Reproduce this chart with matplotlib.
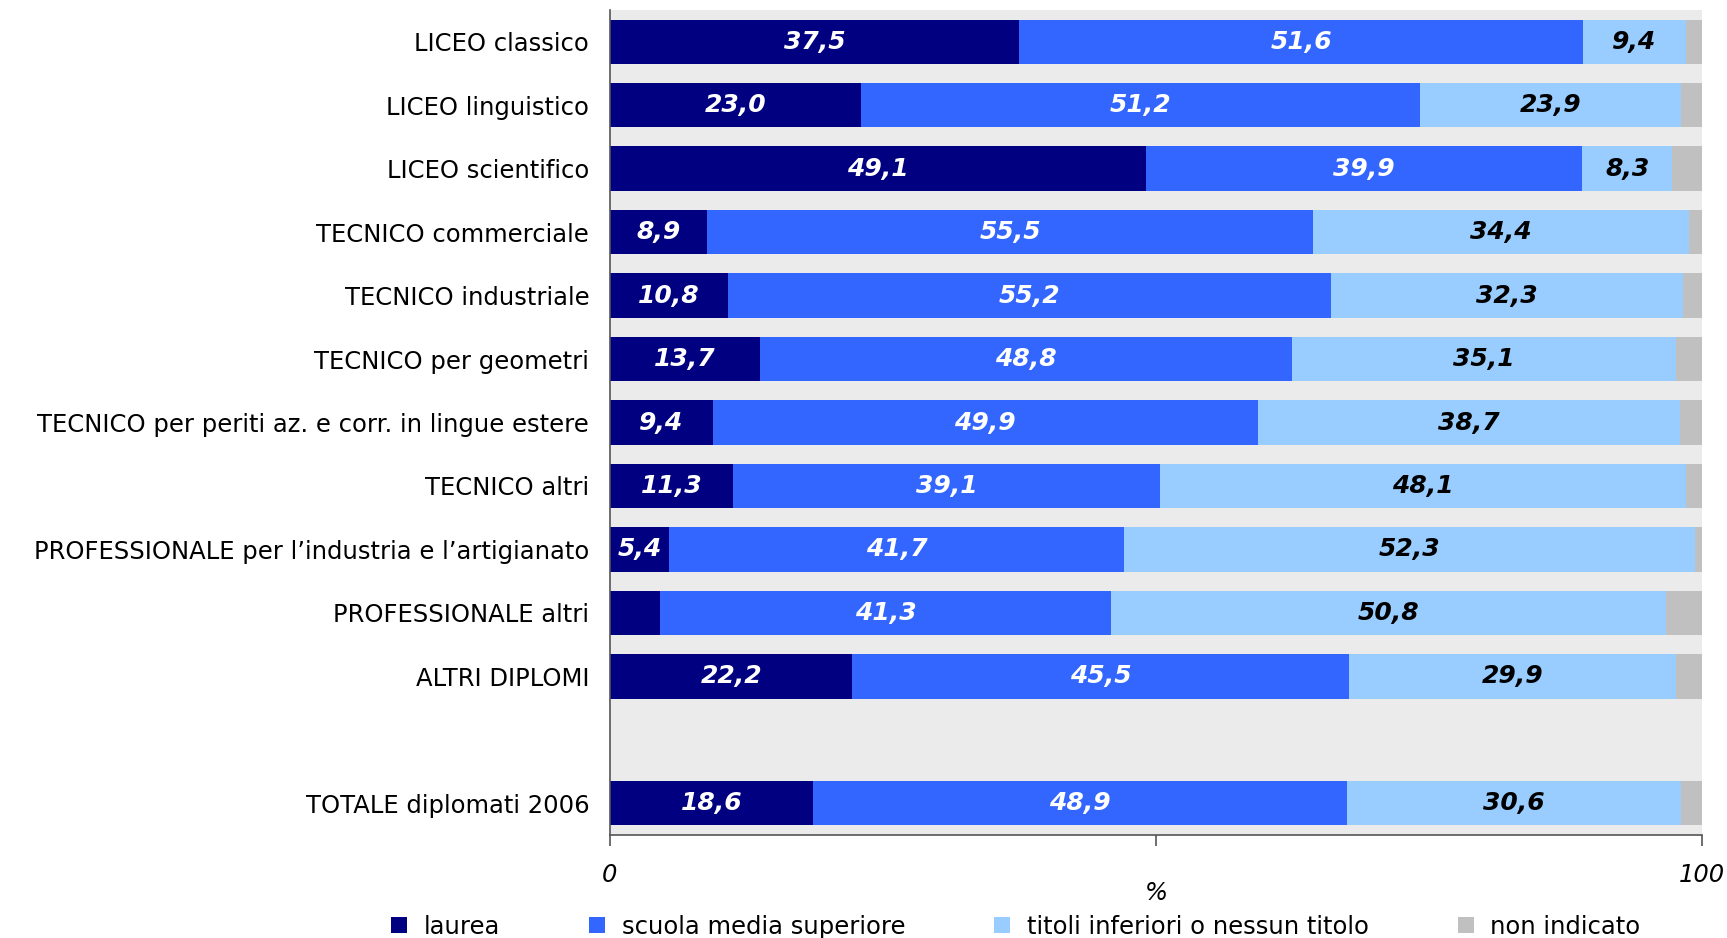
import matplotlib.pyplot as plt
from matplotlib.lines import Line2D

categories = [
    "LICEO classico",
    "LICEO linguistico",
    "LICEO scientifico",
    "TECNICO commerciale",
    "TECNICO industriale",
    "TECNICO per geometri",
    "TECNICO per periti az. e corr. in lingue estere",
    "TECNICO altri",
    "PROFESSIONALE per l\u2019industria e l\u2019artigianato",
    "PROFESSIONALE altri",
    "ALTRI DIPLOMI",
    "TOTALE diplomati 2006",
]
# slot of each category (gap left before the total)
slots = [0, 1, 2, 3, 4, 5, 6, 7, 8, 9, 10, 12]

laurea = [37.5, 23.0, 49.1, 8.9, 10.8, 13.7, 9.4, 11.3, 5.4, 4.6, 22.2, 18.6]
scuola = [51.6, 51.2, 39.9, 55.5, 55.2, 48.8, 49.9, 39.1, 41.7, 41.3, 45.5, 48.9]
titoli = [9.4, 23.9, 8.3, 34.4, 32.3, 35.1, 38.7, 48.1, 52.3, 50.8, 29.9, 30.6]
non_ind = [1.5, 1.9, 2.7, 1.2, 1.7, 2.4, 2.0, 1.5, 0.6, 3.3, 2.4, 1.9]
# the laurea value of "PROFESSIONALE altri" carries no label in the original
show_laurea = [True] * 9 + [False] + [True, True]

series_names = ["laurea", "scuola media superiore",
                "titoli inferiori o nessun titolo", "non indicato"]
colors = ["#000080", "#3366FF", "#99CCFF", "#C0C0C0"]
label_colors = ["white", "white", "black", None]

fig = plt.figure(figsize=(17.27, 9.38), dpi=100)
ax = fig.add_axes([0.3532, 0.1098, 0.6323, 0.8795])
ax.set_facecolor("#EBEBEB")

left = [0.0] * len(categories)
for i, vals in enumerate([laurea, scuola, titoli, non_ind]):
    bars = ax.barh(slots, vals, left=left, height=0.7, color=colors[i], linewidth=0)
    if label_colors[i] is not None:
        labels = []
        for j, v in enumerate(vals):
            if i == 0 and not show_laurea[j]:
                labels.append("")
            else:
                labels.append(f"{v:.1f}".replace(".", ","))
        ax.bar_label(bars, labels=labels, label_type="center", color=label_colors[i],
                     fontsize=18, fontweight="bold", fontstyle="italic")
    left = [a + b for a, b in zip(left, vals)]

ax.set_ylim(12.5, -0.5)
ax.set_xlim(0, 100)
ax.set_yticks(slots)
ax.set_yticklabels(categories, fontsize=17.5)
ax.tick_params(axis="y", length=0, pad=15)
ax.set_xticks([0, 50, 100])
ax.set_xticklabels(["0", "", "100"], fontsize=17.5, fontstyle="italic")
ax.tick_params(axis="x", length=8, width=1.2, color="#555555", pad=12)
ax.set_xlabel("%", fontsize=17.5, fontstyle="italic", labelpad=-4)

for side in ["top", "right"]:
    ax.spines[side].set_visible(False)
for side in ["left", "bottom"]:
    ax.spines[side].set_color("#555555")
    ax.spines[side].set_linewidth(1.2)

handles = [Line2D([], [], marker="s", linestyle="none", markersize=11,
                  markerfacecolor=c, markeredgewidth=0) for c in colors]
fig.legend(handles, series_names, loc="lower center", ncol=4, frameon=False,
           fontsize=17.5, bbox_to_anchor=(0.587, -0.024), handlelength=1,
           handletextpad=0.5, columnspacing=3.5)

fig.savefig("out.png", dpi=100)
